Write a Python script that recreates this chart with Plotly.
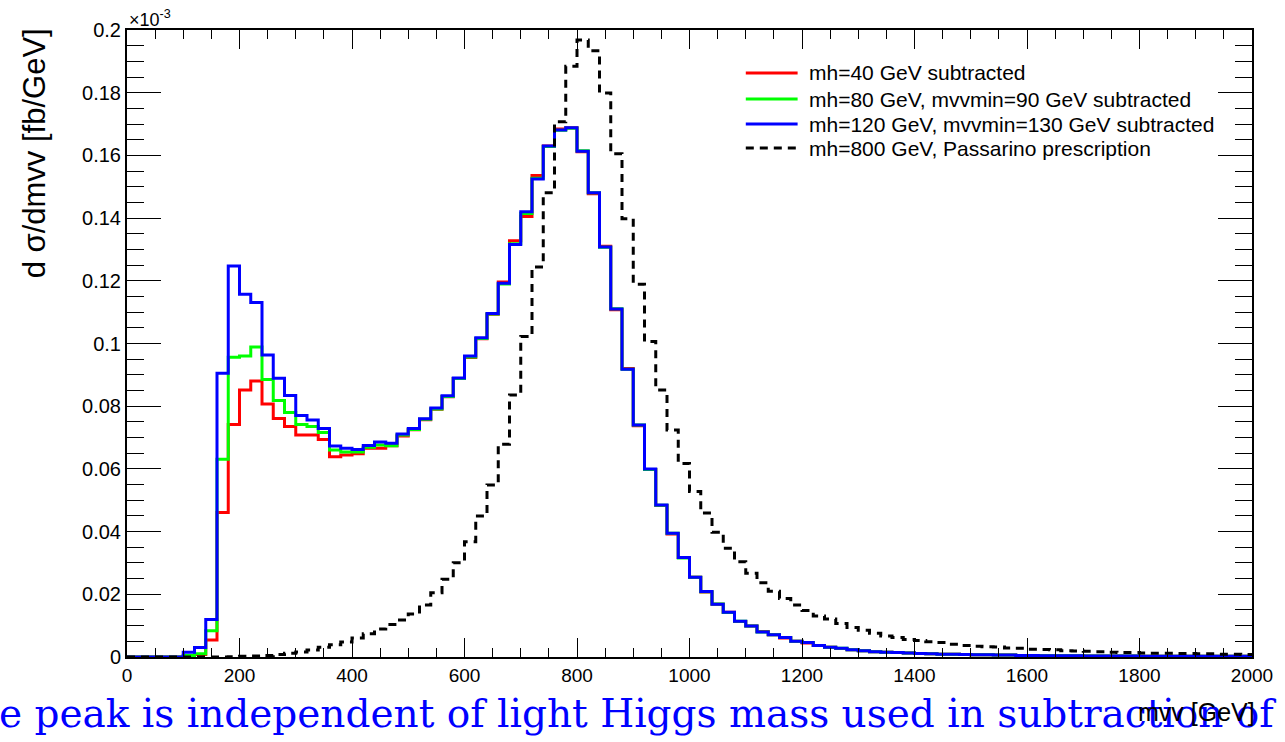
import numpy as np
import plotly.graph_objects as go

# ---------------- data (values in units of 1e-3 fb/GeV) ----------------
BIN_LOW = 0
BIN_WIDTH = 20
N_BINS = 100

mh40 = [0, 0, 0, 0, 0, 0.0003, 0.0008, 0.0054, 0.0461, 0.0742,
        0.0852, 0.0880, 0.0807, 0.0761, 0.0735, 0.0708, 0.0708, 0.0694, 0.0639, 0.0644,
        0.0648, 0.0666, 0.0666, 0.0674, 0.0705, 0.0725, 0.0757, 0.0790, 0.0830, 0.0888,
        0.0955, 0.1015, 0.1093, 0.1196, 0.1328, 0.1405, 0.1536, 0.1630, 0.1684, 0.1688,
        0.1612, 0.1478, 0.1310, 0.1108, 0.0920, 0.0738, 0.0598, 0.0483, 0.0392, 0.0317,
        0.0254, 0.0207, 0.0168, 0.0143, 0.0113, 0.0099, 0.0081, 0.0071, 0.0061, 0.0050,
        0.0045, 0.0037, 0.0031, 0.0027, 0.0023, 0.0020, 0.0017, 0.0015, 0.0014, 0.0013,
        0.0011, 0.0010, 0.0009, 0.0009, 0.0008, 0.0007, 0.0007, 0.0006, 0.0006, 0.0005,
        0.0005, 0.0004, 0.0004, 0.0004, 0.0004, 0.0003, 0.0003, 0.0003, 0.0003, 0.0003,
        0.0002, 0.0002, 0.0002, 0.0002, 0.0002, 0.0002, 0.0002, 0.0002, 0.0002, 0.0002]

mh80 = [0, 0, 0, 0, 0, 0.0005, 0.0010, 0.0084, 0.0631, 0.0956,
        0.0960, 0.0989, 0.0885, 0.0818, 0.0780, 0.0742, 0.0735, 0.0716, 0.0660, 0.0654,
        0.0654, 0.0669, 0.0676, 0.0674, 0.0708, 0.0726, 0.0758, 0.0791, 0.0831, 0.0888,
        0.0957, 0.1016, 0.1094, 0.1190, 0.1318, 0.1415, 0.1527, 0.1628, 0.1680, 0.1687,
        0.1615, 0.1481, 0.1307, 0.1111, 0.0918, 0.0740, 0.0598, 0.0484, 0.0395, 0.0316,
        0.0254, 0.0208, 0.0169, 0.0142, 0.0114, 0.0099, 0.0080, 0.0071, 0.0062, 0.0050,
        0.0046, 0.0037, 0.0031, 0.0028, 0.0023, 0.0020, 0.0017, 0.0015, 0.0014, 0.0013,
        0.0011, 0.0010, 0.0009, 0.0009, 0.0008, 0.0007, 0.0007, 0.0006, 0.0006, 0.0005,
        0.0005, 0.0004, 0.0004, 0.0004, 0.0004, 0.0003, 0.0003, 0.0003, 0.0003, 0.0003,
        0.0002, 0.0002, 0.0002, 0.0002, 0.0002, 0.0002, 0.0002, 0.0002, 0.0002, 0.0002]

mh120 = [0, 0, 0, 0, 0, 0.0015, 0.0030, 0.0120, 0.0905, 0.1247,
         0.1157, 0.1131, 0.0963, 0.0889, 0.0834, 0.0770, 0.0756, 0.0729, 0.0673, 0.0666,
         0.0662, 0.0675, 0.0686, 0.0682, 0.0711, 0.0729, 0.0760, 0.0794, 0.0833, 0.0890,
         0.0960, 0.1018, 0.1096, 0.1192, 0.1316, 0.1420, 0.1525, 0.1630, 0.1681, 0.1688,
         0.1613, 0.1481, 0.1308, 0.1110, 0.0918, 0.0740, 0.0600, 0.0485, 0.0395, 0.0317,
         0.0254, 0.0209, 0.0168, 0.0143, 0.0114, 0.0099, 0.0080, 0.0071, 0.0062, 0.0050,
         0.0046, 0.0037, 0.0031, 0.0028, 0.0023, 0.0020, 0.0017, 0.0015, 0.0014, 0.0013,
         0.0011, 0.0010, 0.0009, 0.0009, 0.0008, 0.0007, 0.0007, 0.0006, 0.0006, 0.0005,
         0.0005, 0.0004, 0.0004, 0.0004, 0.0004, 0.0003, 0.0003, 0.0003, 0.0003, 0.0003,
         0.0002, 0.0002, 0.0002, 0.0002, 0.0002, 0.0002, 0.0002, 0.0002, 0.0002, 0.0002]

mh800 = [0, 0, 0, 0, 0, 0, 0, 0, 0, 0.0001,
         0.0002, 0.0003, 0.0005, 0.0008, 0.0012, 0.0016, 0.0022, 0.0031, 0.0039, 0.0048,
         0.0061, 0.0074, 0.0089, 0.0104, 0.0118, 0.0137, 0.0166, 0.0205, 0.0248, 0.0301,
         0.0368, 0.0450, 0.0549, 0.0679, 0.0836, 0.1022, 0.1244, 0.1481, 0.1707, 0.1884,
         0.1968, 0.1934, 0.1799, 0.1605, 0.1398, 0.1189, 0.1006, 0.0852, 0.0724, 0.0617,
         0.0528, 0.0459, 0.0398, 0.0347, 0.0304, 0.0267, 0.0237, 0.0210, 0.0187, 0.0166,
         0.0148, 0.0131, 0.0121, 0.0107, 0.0094, 0.0085, 0.0076, 0.0067, 0.0062, 0.0056,
         0.0053, 0.0049, 0.0046, 0.0041, 0.0037, 0.0034, 0.0033, 0.0032, 0.0029, 0.0028,
         0.0025, 0.0024, 0.0023, 0.0020, 0.0019, 0.0018, 0.0017, 0.0015, 0.0014, 0.0014,
         0.0013, 0.0012, 0.0012, 0.0011, 0.0011, 0.0010, 0.0010, 0.0009, 0.0009, 0.0008]

series_names = ["mh=40 GeV subtracted",
                "mh=80 GeV, mvvmin=90 GeV subtracted",
                "mh=120 GeV, mvvmin=130 GeV subtracted",
                "mh=800 GeV, Passarino prescription"]

x_tickvals = [0, 200, 400, 600, 800, 1000, 1200, 1400, 1600, 1800, 2000]
x_ticktext = ["0", "200", "400", "600", "800", "1000", "1200", "1400", "1600", "1800", "2000"]
y_tickvals = [0, 0.02, 0.04, 0.06, 0.08, 0.1, 0.12, 0.14, 0.16, 0.18, 0.2]
y_ticktext = ["0", "0.02", "0.04", "0.06", "0.08", "0.1", "0.12", "0.14", "0.16", "0.18", "0.2"]

# ---------------- figure ----------------
W, H = 1285, 742
ML, MR, MT, MB = 127, 29, 30, 85
PW, PH = W - ML - MR, H - MT - MB

def px_x(p):  # pixel -> paper x
    return (p - ML) / PW

def px_y(p):  # pixel -> paper y
    return (H - MB - p) / PH

edges = BIN_LOW + BIN_WIDTH * np.arange(N_BINS + 1)

def step_xy(vals):
    return edges, list(vals) + [vals[-1]]

styles = [
    dict(color="#ff0000", width=3, dash="solid"),
    dict(color="#00ff00", width=3, dash="solid"),
    dict(color="#0000ff", width=3, dash="solid"),
    dict(color="#000000", width=3, dash="8px,6px"),
]

fig = go.Figure()
for vals, name, st in zip([mh40, mh80, mh120, mh800], series_names, styles):
    xs, ys = step_xy(vals)
    fig.add_trace(go.Scatter(x=xs, y=ys, mode="lines", name=name, showlegend=False,
                             line=dict(shape="hv", **st)))

FONT = "Liberation Sans, Arial, Helvetica, sans-serif"

fig.update_layout(
    width=W, height=H,
    margin=dict(l=ML, r=MR, t=MT, b=MB),
    paper_bgcolor="white", plot_bgcolor="white",
    font=dict(family=FONT, size=20, color="black"),
    showlegend=False,
    xaxis=dict(range=[0, 2000], tickvals=x_tickvals, ticktext=x_ticktext,
               ticks="inside", ticklen=19, tickwidth=1, tickcolor="black",
               minor=dict(dtick=50, ticks="inside", ticklen=9, tickcolor="black", tickwidth=1, showgrid=False),
               showline=True, linecolor="black", linewidth=2, mirror="allticks",
               showgrid=False, zeroline=False,
               tickfont=dict(family=FONT, size=19)),
    yaxis=dict(range=[0, 0.2], tickvals=y_tickvals, ticktext=y_ticktext,
               ticks="inside", ticklen=34, tickwidth=1, tickcolor="black",
               minor=dict(dtick=0.005, ticks="inside", ticklen=17, tickcolor="black", tickwidth=1, showgrid=False),
               showline=True, linecolor="black", linewidth=2, mirror="allticks",
               showgrid=False, zeroline=False,
               tickfont=dict(family=FONT, size=20)),
)

annotations = [
    dict(text="×10<sup>-3</sup>", x=0, y=1, xref="paper", yref="paper",
         xanchor="left", yanchor="bottom", showarrow=False, yshift=-2,
         font=dict(family=FONT, size=18)),
    dict(text="d σ/dmvv [fb/GeV]", textangle=-90, x=px_x(34), y=px_y(26),
         xref="paper", yref="paper", xanchor="center", yanchor="top",
         showarrow=False, font=dict(family=FONT, size=31)),
    dict(text="e peak is independent of light Higgs mass used in subtraction of",
         x=px_x(-3), y=px_y(713), xref="paper", yref="paper",
         xanchor="left", yanchor="middle", showarrow=False,
         font=dict(family="DejaVu Serif, serif", size=39, color="#0000ff")),
    dict(text="mvv [GeV]", x=1, y=px_y(712), xref="paper", yref="paper",
         xanchor="right", yanchor="middle", showarrow=False, xshift=5,
         font=dict(family=FONT, size=25)),
]

# legend (drawn manually to match the compact ROOT TLegend spacing)
legend_rows_px = [73, 99, 124, 148]
shapes = []
for name, st, ry in zip(series_names, styles, legend_rows_px):
    shapes.append(dict(type="line", xref="paper", yref="paper",
                       x0=px_x(748), x1=px_x(800), y0=px_y(ry), y1=px_y(ry),
                       line=dict(color=st["color"], width=st["width"], dash=st["dash"])))
    annotations.append(dict(text=name, x=px_x(809), y=px_y(ry), xref="paper", yref="paper",
                            xanchor="left", yanchor="middle", showarrow=False,
                            font=dict(family=FONT, size=21)))

fig.update_layout(annotations=annotations, shapes=shapes)

fig.write_html("out.html")
